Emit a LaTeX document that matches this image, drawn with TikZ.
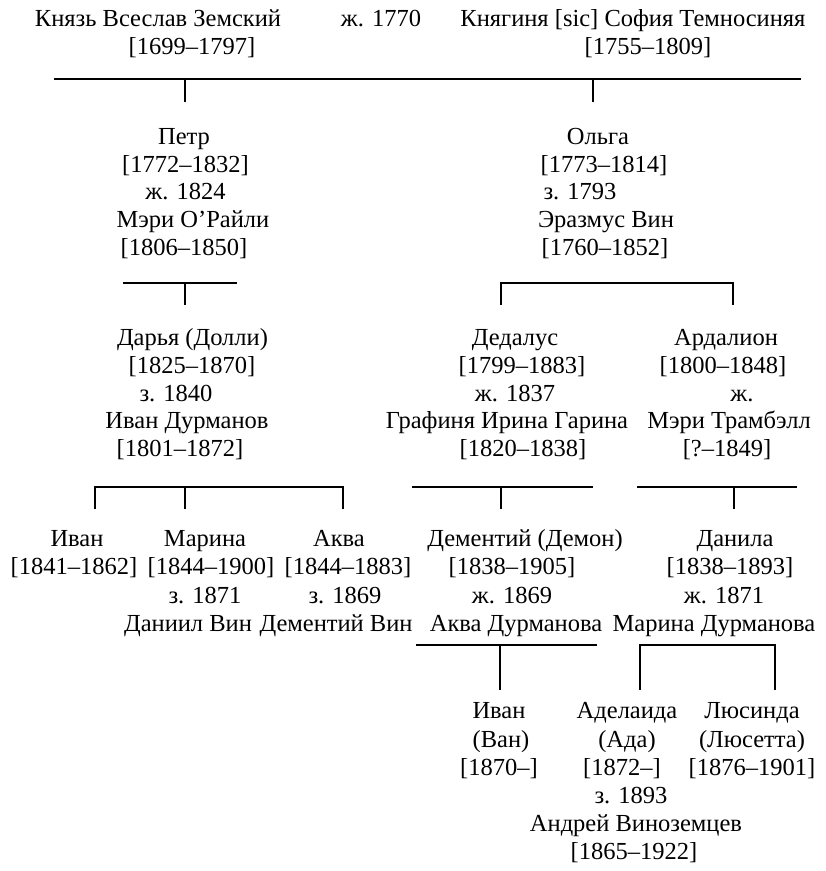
\documentclass[tikz,border=0pt]{standalone}
\usepackage{fontspec}
\setmainfont{Liberation Serif}
\begin{document}
\begin{tikzpicture}[x=1pt,y=-1pt,
  t/.style={anchor=base, inner sep=0pt, font=\fontsize{24.5}{28}\selectfont},
  bar/.style={line width=1.3pt, line cap=butt}]
\useasboundingbox (0,0) rectangle (826,871);
% ---------- generation 1
\node[t] (k1) at (158,26) {Князь Всеслав Земский};
\node[t] (k2) at (192,54) {[1699–1797]};
\node[t] (m0) at (381,26) {ж. 1770};
\node[t] (s1) at (633,26) {Княгиня [sic] София Темносиняя};
\node[t] (s2) at (648,54) {[1755–1809]};
\coordinate (b1l) at (54,79); \coordinate (b1r) at (801,79);
\coordinate (b1p) at (185,79); \coordinate (b1pd) at (185,102);
\coordinate (b1o) at (593,79); \coordinate (b1od) at (593,102);
\draw[bar] (b1l) -- (b1r);
\draw[bar] (b1p) -- (b1pd);
\draw[bar] (b1o) -- (b1od);
% ---------- Petr
\node[t] (p1) at (184,144) {Петр};
\node[t] (p2) at (185.5,172) {[1772–1832]};
\node[t] (p3) at (185.5,199) {ж. 1824};
\node[t] (p4) at (193,227) {Мэри О’Райли};
\node[t] (p5) at (184,255) {[1806–1850]};
\coordinate (b2l) at (123,283); \coordinate (b2r) at (237,283);
\coordinate (b2m) at (185,283); \coordinate (b2md) at (185,305);
\draw[bar] (b2l) -- (b2r);
\draw[bar] (b2m) -- (b2md);
% ---------- Olga
\node[t] (o1) at (598,144) {Ольга};
\node[t] (o2) at (604,172) {[1773–1814]};
\node[t] (o3) at (580,199) {з. 1793};
\node[t] (o4) at (606,227) {Эразмус Вин};
\node[t] (o5) at (605,255) {[1760–1852]};
\coordinate (b3l) at (501,283); \coordinate (b3r) at (733,283);
\coordinate (b3ld) at (501,305); \coordinate (b3rd) at (733,305);
\draw[bar] (b3ld) -- (b3l) -- (b3r) -- (b3rd);
% ---------- Darya
\node[t] (d1) at (192.5,345) {Дарья (Долли)};
\node[t] (d2) at (192,373) {[1825–1870]};
\node[t] (d3) at (176,401) {з. 1840};
\node[t] (d4) at (187,428) {Иван Дурманов};
\node[t] (d5) at (180,456) {[1801–1872]};
\coordinate (b4l) at (95,487); \coordinate (b4r) at (343,487);
\coordinate (b4ld) at (95,509); \coordinate (b4rd) at (343,509);
\coordinate (b4m) at (185,487); \coordinate (b4md) at (185,509);
\draw[bar] (b4ld) -- (b4l) -- (b4r) -- (b4rd);
\draw[bar] (b4m) -- (b4md);
% ---------- Dedalus
\node[t] (e1) at (515,345) {Дедалус};
\node[t] (e2) at (522,373) {[1799–1883]};
\node[t] (e3) at (515,401) {ж. 1837};
\node[t] (e4) at (507,428) {Графиня Ирина Гарина};
\node[t] (e5) at (523,456) {[1820–1838]};
\coordinate (b5l) at (412,487); \coordinate (b5r) at (593,487);
\coordinate (b5m) at (501,487); \coordinate (b5md) at (501,509);
\draw[bar] (b5l) -- (b5r);
\draw[bar] (b5m) -- (b5md);
% ---------- Ardalion
\node[t] (a1) at (726,345) {Ардалион};
\node[t] (a2) at (723,373) {[1800–1848]};
\node[t] (a3) at (742,401) {ж.};
\node[t] (a4) at (729,428) {Мэри Трамбэлл};
\node[t] (a5) at (727,456) {[?–1849]};
\coordinate (b6l) at (637,487); \coordinate (b6r) at (797,487);
\coordinate (b6m) at (734,487); \coordinate (b6md) at (734,509);
\draw[bar] (b6l) -- (b6r);
\draw[bar] (b6m) -- (b6md);
% ---------- generation 4
\node[t] (i1) at (77,546) {Иван};
\node[t] (i2) at (74,574) {[1841–1862]};
\node[t] (mr1) at (205,546) {Марина};
\node[t] (mr2) at (211,574) {[1844–1900]};
\node[t] (mr3) at (205,603) {з. 1871};
\node[t] (mr4) at (188,631) {Даниил Вин};
\node[t] (aq1) at (339,546) {Аква};
\node[t] (aq2) at (348,574) {[1844–1883]};
\node[t] (aq3) at (345,603) {з. 1869};
\node[t] (aq4) at (336,631) {Дементий Вин};
\node[t] (dm1) at (525,546) {Дементий (Демон)};
\node[t] (dm2) at (512,574) {[1838–1905]};
\node[t] (dm3) at (512,603) {ж. 1869};
\node[t] (dm4) at (516,631) {Аква Дурманова};
\node[t] (dn1) at (735,546) {Данила};
\node[t] (dn2) at (730,574) {[1838–1893]};
\node[t] (dn3) at (724,603) {ж. 1871};
\node[t] (dn4) at (714,631) {Марина Дурманова};
\coordinate (b7l) at (416,645); \coordinate (b7r) at (597,645);
\coordinate (b7m) at (500,645); \coordinate (b7md) at (500,690);
\draw[bar] (b7l) -- (b7r);
\draw[bar] (b7m) -- (b7md);
\coordinate (b8l) at (640,645); \coordinate (b8r) at (775,645);
\coordinate (b8ld) at (640,690); \coordinate (b8rd) at (775,690);
\draw[bar] (b8ld) -- (b8l) -- (b8r) -- (b8rd);
% ---------- generation 5
\node[t] (v1) at (499,718) {Иван};
\node[t] (v2) at (501,747) {(Ван)};
\node[t] (v3) at (499,775) {[1870–]};
\node[t] (ad1) at (627,718) {Аделаида};
\node[t] (ad2) at (627,747) {(Ада)};
\node[t] (ad3) at (622,775) {[1872–]};
\node[t] (ad4) at (631,803) {з. 1893};
\node[t] (ad5) at (636,831) {Андрей Виноземцев};
\node[t] (ad6) at (634,859) {[1865–1922]};
\node[t] (l1) at (752,718) {Люсинда};
\node[t] (l2) at (752,747) {(Люсетта)};
\node[t] (l3) at (752,775) {[1876–1901]};
\end{tikzpicture}
\end{document}
